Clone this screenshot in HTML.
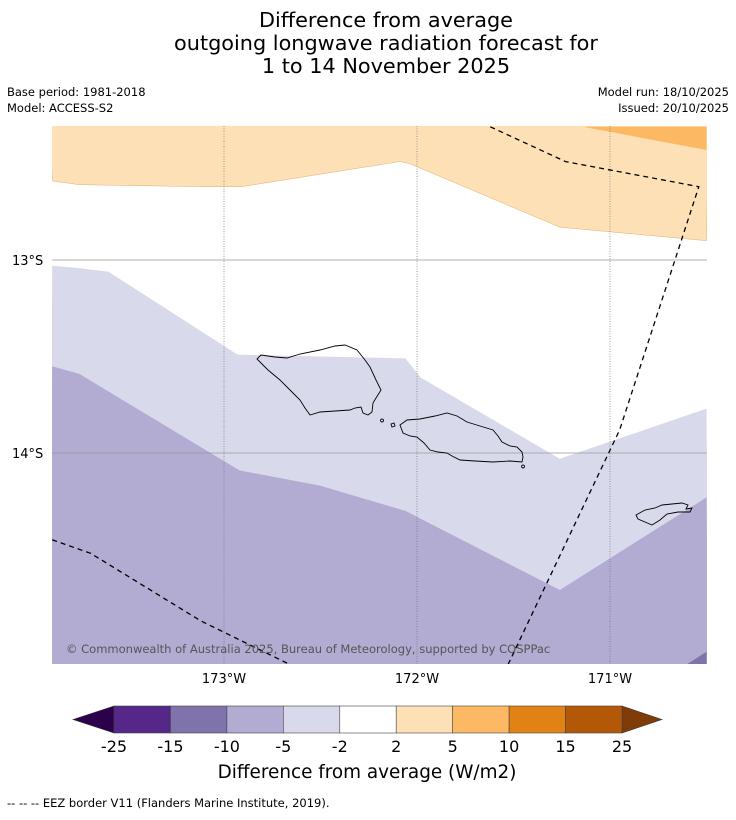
<!DOCTYPE html>
<html><head><meta charset="utf-8"><style>
body{margin:0;background:#fff;width:736px;height:816px;overflow:hidden;font-family:"DejaVu Sans","Liberation Sans",sans-serif;}
svg text{font-family:"DejaVu Sans","Liberation Sans",sans-serif;}
</style></head><body>
<svg id="s" width="736" height="816" xmlns="http://www.w3.org/2000/svg">
<text x="386" y="27" font-size="20.8" text-anchor="middle">Difference from average</text>
<text x="386" y="50" font-size="20.8" text-anchor="middle">outgoing longwave radiation forecast for</text>
<text x="386" y="73" font-size="20.8" text-anchor="middle">1 to 14 November 2025</text>
<text x="7" y="96" font-size="11.5">Base period: 1981-2018</text>
<text x="7" y="112" font-size="11.5">Model: ACCESS-S2</text>
<text x="729" y="96" font-size="11.5" text-anchor="end">Model run: 18/10/2025</text>
<text x="729" y="112" font-size="11.5" text-anchor="end">Issued: 20/10/2025</text>
<defs><clipPath id="mc"><rect x="52" y="126" width="655" height="538"/></clipPath></defs>
<g id="map" clip-path="url(#mc)"></g>
<text x="66" y="653" font-size="11.5" fill="#555">© Commonwealth of Australia 2025, Bureau of Meteorology, supported by COSPPac</text>
<g id="axes"></g>
<g id="cbar"></g>
<text x="367" y="778" font-size="18.4" text-anchor="middle">Difference from average (W/m2)</text>
<text x="7" y="807" font-size="11.5">--  --  -- EEZ border V11 (Flanders Marine Institute, 2019).</text>
</svg>
<script>
const lonTicks=[-173,-172,-171];
const latTicks=[-13,-14];
const levels=[-25,-15,-10,-5,-2,2,5,10,15,25];
const levelColors=["#542788","#8073ac","#b2abd2","#d8daeb","#ffffff","#fee0b6","#fdb863","#e08214","#b35806"];
const lowColor="#2d004b", highColor="#7f3b08";
const orangeLight=[[-173.89,-12.59],[-173.75,-12.61],[-173.10,-12.62],[-172.91,-12.62],[-172.09,-12.49],[-172.04,-12.50],[-171.26,-12.83],[-170.50,-12.90]];
const orangeMid=[[-171.14,-12.31],[-170.50,-12.31],[-170.50,-12.43]];
const purpleLight=[[-173.89,-13.03],[-173.77,-13.04],[-173.60,-13.06],[-172.93,-13.49],[-172.06,-13.51],[-171.98,-13.61],[-171.26,-14.03],[-170.50,-13.77]];
const purpleMid=[[-173.89,-13.55],[-173.75,-13.59],[-172.92,-14.09],[-172.50,-14.17],[-172.06,-14.30],[-171.26,-14.71],[-170.50,-14.23]];
const purpleDark=[[-170.61,-15.10],[-170.50,-15.03],[-170.50,-15.10]];
const eez1=[[-171.62,-12.31],[-171.23,-12.49],[-170.54,-12.62],[-170.95,-13.88],[-171.53,-15.10]];
const eez2=[[-173.89,-14.45],[-173.69,-14.52],[-173.12,-14.87],[-172.65,-15.10]];
const X=lon=>224+(lon+173)*193, Y=lat=>260-(lat+13)*193;
const NS="http://www.w3.org/2000/svg";
function mk(t,a,p){const e=document.createElementNS(NS,t);for(const k in a)e.setAttribute(k,a[k]);p.appendChild(e);return e;}
const map=document.getElementById('map');
const pts=a=>a.map(p=>X(p[0]).toFixed(1)+','+Y(p[1]).toFixed(1));
const TOP=-12.30,BOT=-15.10,L=-173.9,R=-170.49;
let e;
e=mk('rect',{x:0,y:0,width:736,height:816,fill:'#fff'},map);


e=mk('polygon',{points:[X(L)+','+Y(TOP),X(R)+','+Y(TOP),...pts([...orangeLight].reverse())].join(' '),fill:'#fee0b6',stroke:'#e0b070','stroke-width':0.5},map);


e=mk('polygon',{points:pts(orangeMid).join(' '),fill:'#fdb863'},map);


e=mk('polygon',{points:[...pts(purpleLight),X(R)+','+Y(BOT),X(L)+','+Y(BOT)].join(' '),fill:'#d8daeb'},map);


e=mk('polygon',{points:[...pts(purpleMid),X(R)+','+Y(BOT),X(L)+','+Y(BOT)].join(' '),fill:'#b2abd2'},map);


e=mk('polygon',{points:pts(purpleDark).join(' '),fill:'#8073ac'},map);


lonTicks.forEach(l=>{e=mk('line',{x1:X(l),x2:X(l),y1:126,y2:664,stroke:'#777','stroke-width':0.7,'stroke-dasharray':'1,1.5'},map);

});
latTicks.forEach(l=>{e=mk('line',{x1:52,x2:707,y1:Y(l),y2:Y(l),stroke:'#999','stroke-width':0.8},map);

});
const isl=[
"M257,359 L261,355 L275,357 L287,358 L300,354 L320,350 L335,346 L345,345 L357,350 L365,360 L370,367 L376,380 L381,390 L376,398 L373,403 L372,412 L368,415 L363,413 L361,407 L355,408 L350,410 L335,411 L320,412 L310,415 L305,408 L300,400 L290,390 L280,380 L268,370 Z",
"M400,425 L407,420 L420,419 L435,416 L447,413 L457,416 L467,422 L480,426 L493,430 L498,436 L502,442 L510,446 L517,447 L522,452 L523,457 L522,462 L510,461 L493,462 L475,461 L460,460 L452,456 L447,453 L438,452 L430,450 L424,443 L417,437 L410,436 L403,433 Z",
"M636,515 L645,510 L655,508 L662,505 L672,504 L682,503 L688,505 L686,509 L692,508 L690,512 L678,512 L667,514 L660,520 L652,525 L645,522 L638,519 Z",
"M382,419 a1.5,1.5 0 1,0 0.1,0","M391,424 l3,-1 l1,3 l-3,1 Z","M523,465 a1.5,1.5 0 1,0 0.1,0"];
isl.forEach(d=>{e=mk('path',{d:d,fill:'none',stroke:'#000','stroke-width':0.9},map);

});
[eez1,eez2].forEach(a=>{e=mk('polyline',{points:pts(a).join(' '),fill:'none',stroke:'#000','stroke-width':1.3,'stroke-dasharray':'5,4'},map);

});
const ax=document.getElementById('axes');
lonTicks.forEach(l=>{e=mk('text',{x:X(l),y:683,'font-size':13,'text-anchor':'middle'},ax);e.textContent=Math.abs(l)+'°W';

});
latTicks.forEach(l=>{e=mk('text',{x:12,y:Y(l)+5,'font-size':13},ax);e.textContent=Math.abs(l)+'°S';

});
const cb=document.getElementById('cbar');
const cx0=114,cx1=622,cy0=706,cy1=733,n=levelColors.length,w=(cx1-cx0)/n;
e=mk('polygon',{points:`73,${(cy0+cy1)/2} ${cx0},${cy0} ${cx0},${cy1}`,fill:lowColor,stroke:'#333','stroke-width':0.6},cb);


e=mk('polygon',{points:`662,${(cy0+cy1)/2} ${cx1},${cy0} ${cx1},${cy1}`,fill:highColor,stroke:'#333','stroke-width':0.6},cb);


levelColors.forEach((c,i)=>{e=mk('rect',{x:cx0+i*w,y:cy0,width:w,height:cy1-cy0,fill:c,stroke:'#444','stroke-width':0.6},cb);

});
levels.forEach((v,i)=>{e=mk('text',{x:cx0+i*w,y:752,'font-size':16,'text-anchor':'middle'},cb);e.textContent=v;

});
</script>
</body></html>
